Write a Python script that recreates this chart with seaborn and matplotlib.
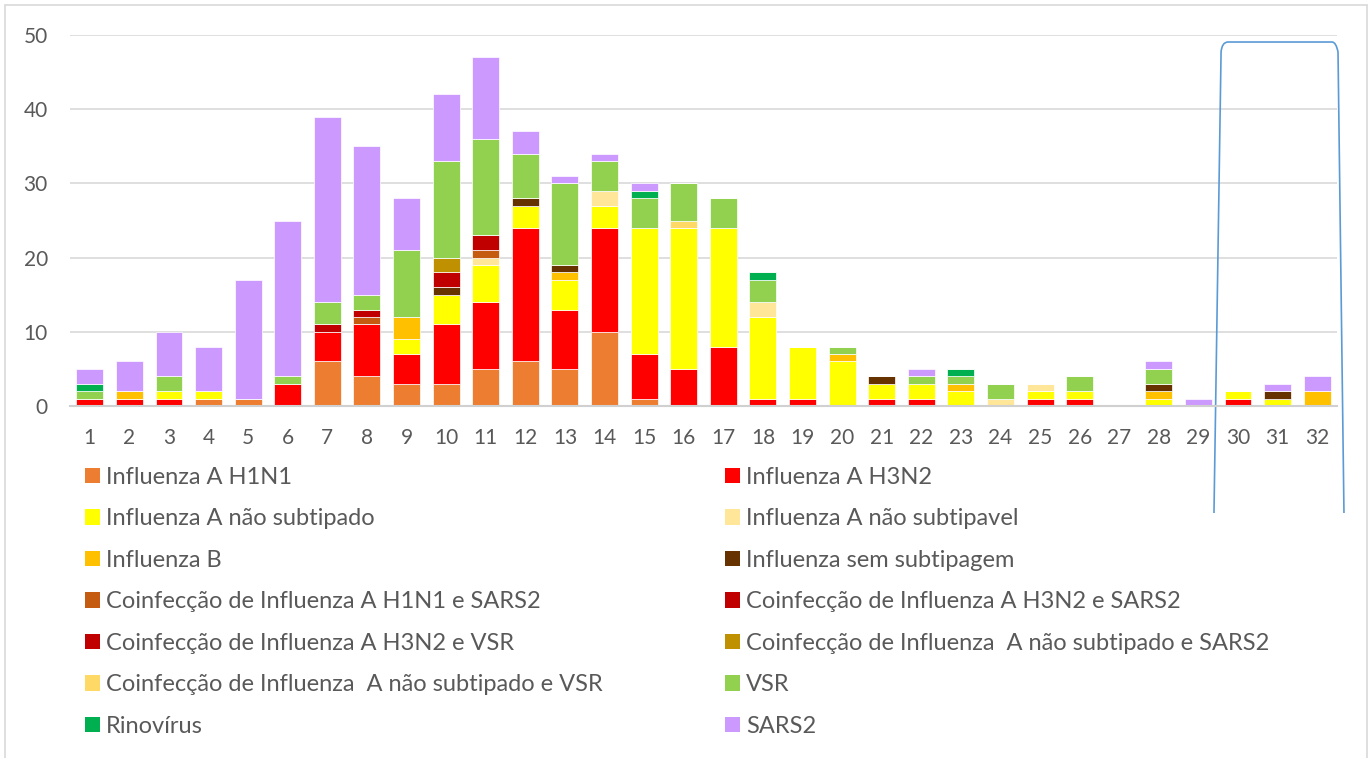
import matplotlib
matplotlib.use("Agg")
import matplotlib.pyplot as plt
from matplotlib.patches import Patch, PathPatch
from matplotlib.path import Path
from matplotlib.lines import Line2D
import seaborn as sns
import pandas as pd

sns.set_style("white")
plt.rcParams['font.family'] = ['Lato', 'DejaVu Sans']

# weeks on the x axis
weeks = list(range(1, 33))

# cases per week, one list per virus / coinfection
h1n1 = [0, 0, 0, 1, 1, 0, 6, 4, 3, 3, 5, 6, 5, 10, 1, 0, 0, 0, 0, 0, 0, 0, 0, 0, 0, 0, 0, 0, 0, 0, 0, 0]
h3n2 = [1, 1, 1, 0, 0, 3, 4, 7, 4, 8, 9, 18, 8, 14, 6, 5, 8, 1, 1, 0, 1, 1, 0, 0, 1, 1, 0, 0, 0, 1, 0, 0]
a_nao_subtipado = [0, 0, 1, 1, 0, 0, 0, 0, 2, 4, 5, 3, 4, 3, 17, 19, 16, 11, 7, 6, 2, 2, 2, 0, 1, 1, 0, 1, 0, 1, 1, 0]
a_nao_subtipavel = [0, 0, 0, 0, 0, 0, 0, 0, 0, 0, 1, 0, 0, 2, 0, 0, 0, 2, 0, 0, 0, 0, 0, 1, 1, 0, 0, 0, 0, 0, 0, 0]
influenza_b = [0, 1, 0, 0, 0, 0, 0, 0, 3, 0, 0, 0, 1, 0, 0, 0, 0, 0, 0, 1, 0, 0, 1, 0, 0, 0, 0, 1, 0, 0, 0, 2]
sem_subtipagem = [0, 0, 0, 0, 0, 0, 0, 0, 0, 1, 0, 1, 1, 0, 0, 0, 0, 0, 0, 0, 1, 0, 0, 0, 0, 0, 0, 1, 0, 0, 1, 0]
coinf_h1n1_sars2 = [0, 0, 0, 0, 0, 0, 0, 1, 0, 0, 1, 0, 0, 0, 0, 0, 0, 0, 0, 0, 0, 0, 0, 0, 0, 0, 0, 0, 0, 0, 0, 0]
coinf_h3n2_sars2 = [0, 0, 0, 0, 0, 0, 1, 1, 0, 0, 2, 0, 0, 0, 0, 0, 0, 0, 0, 0, 0, 0, 0, 0, 0, 0, 0, 0, 0, 0, 0, 0]
coinf_h3n2_vsr = [0, 0, 0, 0, 0, 0, 0, 0, 0, 2, 0, 0, 0, 0, 0, 0, 0, 0, 0, 0, 0, 0, 0, 0, 0, 0, 0, 0, 0, 0, 0, 0]
coinf_nao_sub_sars2 = [0, 0, 0, 0, 0, 0, 0, 0, 0, 2, 0, 0, 0, 0, 0, 0, 0, 0, 0, 0, 0, 0, 0, 0, 0, 0, 0, 0, 0, 0, 0, 0]
coinf_nao_sub_vsr = [0, 0, 0, 0, 0, 0, 0, 0, 0, 0, 0, 0, 0, 0, 0, 1, 0, 0, 0, 0, 0, 0, 0, 0, 0, 0, 0, 0, 0, 0, 0, 0]
vsr = [1, 0, 2, 0, 0, 1, 3, 2, 9, 13, 13, 6, 11, 4, 4, 5, 4, 3, 0, 1, 0, 1, 1, 2, 0, 2, 0, 2, 0, 0, 0, 0]
rinovirus = [1, 0, 0, 0, 0, 0, 0, 0, 0, 0, 0, 0, 0, 0, 1, 0, 0, 1, 0, 0, 0, 0, 1, 0, 0, 0, 0, 0, 0, 0, 0, 0]
sars2 = [2, 4, 6, 6, 16, 21, 25, 20, 7, 9, 11, 3, 1, 1, 1, 0, 0, 0, 0, 0, 0, 1, 0, 0, 0, 0, 0, 1, 1, 0, 1, 2]

labels = [
    "Influenza A H1N1",
    "Influenza A H3N2",
    "Influenza A não subtipado",
    "Influenza A não subtipavel",
    "Influenza B",
    "Influenza sem subtipagem",
    "Coinfecção de Influenza A H1N1 e SARS2",
    "Coinfecção de Influenza A H3N2 e SARS2",
    "Coinfecção de Influenza A H3N2 e VSR",
    "Coinfecção de Influenza  A não subtipado e SARS2",
    "Coinfecção de Influenza  A não subtipado e VSR",
    "VSR",
    "Rinovírus",
    "SARS2",
]
series = [h1n1, h3n2, a_nao_subtipado, a_nao_subtipavel, influenza_b, sem_subtipagem,
          coinf_h1n1_sars2, coinf_h3n2_sars2, coinf_h3n2_vsr, coinf_nao_sub_sars2,
          coinf_nao_sub_vsr, vsr, rinovirus, sars2]
colors = ["#ED7D31", "#FF0000", "#FFFF00", "#FFE699", "#FFC000", "#663300",
          "#C55A11", "#C00000", "#C00000", "#BF9000", "#FFD966", "#92D050",
          "#00B050", "#CC99FF"]

rows = []
for lab, vals in zip(labels, series):
    for w, v in zip(weeks, vals):
        rows.append({"semana": w, "tipo": lab, "casos": v})
df = pd.DataFrame(rows)

palette = dict(zip(labels, colors))

fig = plt.figure(figsize=(13.7, 7.58), dpi=100)
ax = fig.add_axes([70 / 1370, 1 - 406 / 758, 1267 / 1370, 371 / 758])

# seaborn stacks the last hue level at the bottom, so reverse the order
sns.histplot(data=df, x="semana", weights="casos", hue="tipo",
             hue_order=labels[::-1], palette=palette, multiple="stack",
             discrete=True, shrink=0.68, alpha=1, edgecolor="white",
             linewidth=0.5, legend=False, ax=ax)

ax.set_xlim(0.5, 32.5)
ax.set_ylim(0, 50)
ax.set_yticks(range(0, 51, 10))
ax.set_xticks(weeks)
ax.set_xlabel("")
ax.set_ylabel("")
ax.yaxis.grid(True, color="#D9D9D9", linewidth=1.2)
ax.xaxis.grid(False)
ax.set_axisbelow(True)
for s in ["left", "right", "top"]:
    ax.spines[s].set_visible(False)
ax.spines["bottom"].set_color("#D0D0D0")
ax.spines["bottom"].set_linewidth(1.5)
ax.tick_params(axis="both", length=0, labelsize=15, colors="#595959")
ax.tick_params(axis="y", pad=16)
ax.tick_params(axis="x", pad=16)

# blue highlight shape drawn around the last weeks
verts = [(0.9029, -0.2884), (0.9085, 0.9542), (0.9092, 0.9811), (0.9140, 0.9811),
         (0.9961, 0.9811), (0.9992, 0.9811), (1.0008, 0.9542), (1.0055, -0.2884)]
codes = [Path.MOVETO, Path.LINETO, Path.CURVE3, Path.CURVE3,
         Path.LINETO, Path.CURVE3, Path.CURVE3, Path.LINETO]
shape = PathPatch(Path(verts, codes), facecolor="none", edgecolor="#5B9BD5",
                  linewidth=1.2, transform=ax.transAxes, clip_on=False)
ax.add_patch(shape)

# legend in two columns, filled row by row
handles = [Patch(facecolor=c, edgecolor="none") for c in colors]
order = list(range(0, 14, 2)) + list(range(1, 14, 2))
fig.legend([handles[i] for i in order], [labels[i] for i in order],
           ncol=2, loc="upper left", bbox_to_anchor=(85 / 1370, 1 - 467 / 758),
           frameon=False, fontsize=17, labelcolor="#595959",
           handlelength=0.63, handleheight=0.63, handletextpad=0.25,
           labelspacing=0.865, columnspacing=5.2, borderpad=0, borderaxespad=0)

# light chart border
for xs, ys in [([5, 5], [0, 753]), ([5, 1367], [753, 753]), ([1367, 1367], [753, 0])]:
    fig.add_artist(Line2D([x / 1370 for x in xs], [y / 758 for y in ys],
                          color="#D9D9D9", linewidth=1.2))

fig.savefig("out.png", dpi=100)
